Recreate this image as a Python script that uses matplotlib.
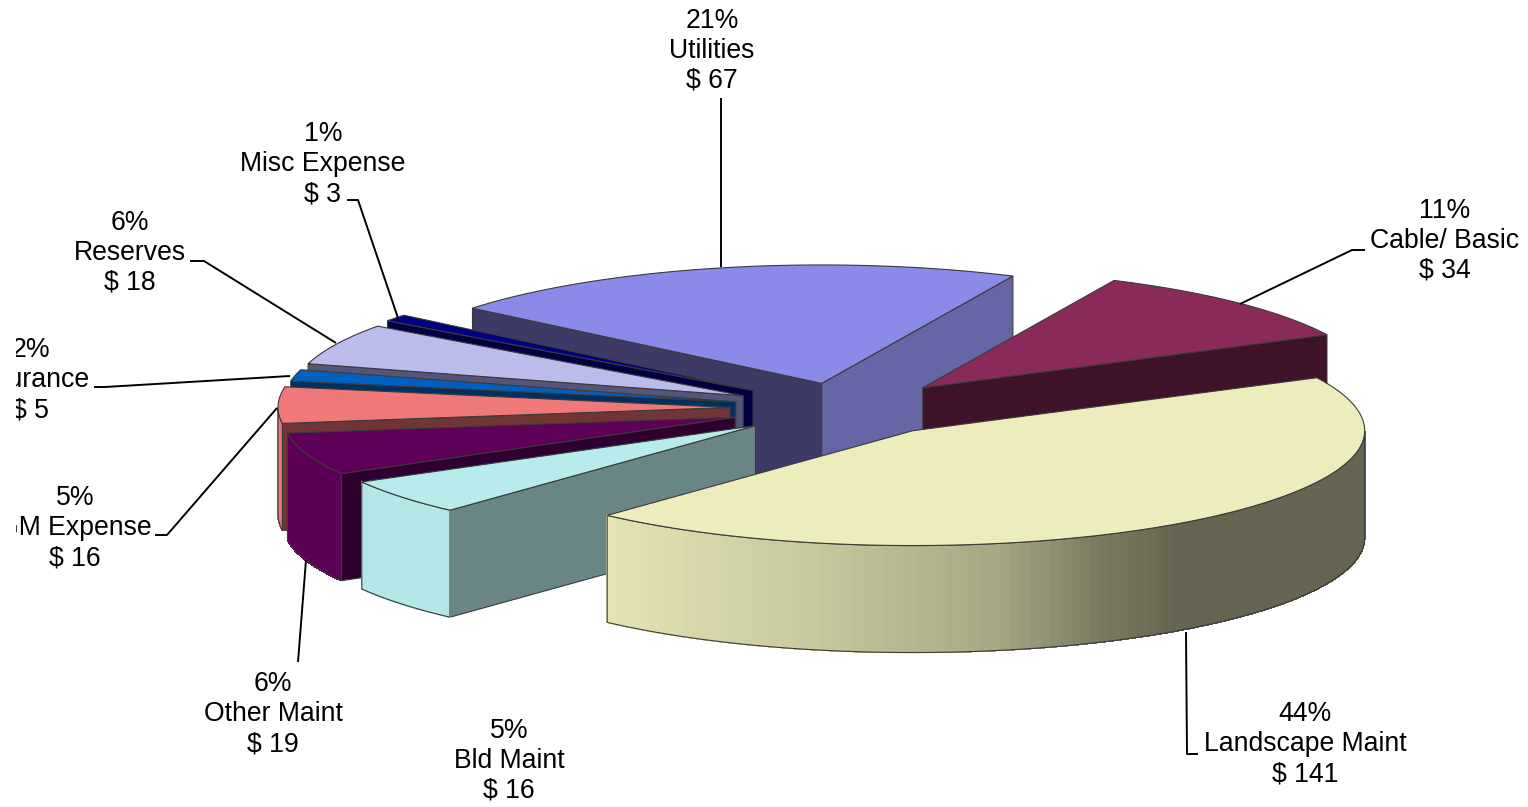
# 3d exploded pie, drawn by hand since matplotlib has no 3d pie
import matplotlib
matplotlib.use("Agg")
import matplotlib.pyplot as plt
from matplotlib.patches import Polygon, Rectangle
import numpy as np

plt.rcParams['font.family'] = ['Liberation Sans', 'DejaVu Sans']

# data
categories = ['Landscape Maint', 'Bld Maint', 'Other Maint', 'GM Expense', 'Insurance',
              'Reserves', 'Misc Expense', 'Utilities', 'Cable/ Basic']
values = [141, 16, 19, 16, 5, 18, 3, 67, 34]
percents = ['44%', '5%', '6%', '5%', '2%', '6%', '1%', '21%', '11%']

# styles (top face, radial face seen from the left, radial face seen from the right)
top_colors = ['#ececbc', '#b8ecec', '#5e0058', '#f07878', '#0060c0', '#bcbcec', '#000080', '#8a8ae8', '#8a2a5a']
left_cut = ['#66664e', '#6a8585', '#2e0030', '#703535', '#003060', '#55557a', '#000040', '#3e3a66', '#3e1228']
right_cut = ['#66664e', '#6a8585', '#2e0030', '#703535', '#003060', '#55557a', '#000040', '#6666a6', '#3e1228']
draw_order = [7, 8, 6, 5, 4, 3, 2, 1, 0]

# layout, in pixels of the 1528x807 picture
center = (844, 408)
radius = 452
squash_back = 0.262  # the far half looks a bit taller
squash_front = 0.254
flat = 0.25
depth = 107
explode = [114, 113, 115, 114, 111, 112, 115, 101, 113]
start_angle = 26.6

label_pos = [(1305, 744), (509, 761), (273, 714), (75, 528), (31, 380), (130, 253), (323, 164), (712, 51), (1445, 241)]
leaders = [
    [(1186, 632), (1187, 754), (1198, 754)],
    None,
    [(306, 560), (298, 662)],
    [(155, 535), (167, 535), (277, 408)],
    [(94, 387), (105, 387), (290, 376)],
    [(190, 261), (204, 261), (336, 343)],
    [(347, 200), (358, 200), (398, 318)],
    [(721, 98), (721, 267)],
    [(1365, 250), (1352, 250), (1240, 304)],
]

# how much the round wall darkens with the angle
shade_angle = [-135, -105, -79, -66, -54, 40]
shade_value = [0.98, 0.86, 0.71, 0.53, 0.43, 0.43]


def shade(color, f):
    rgb = np.array(matplotlib.colors.to_rgb(color))
    return tuple(rgb * f)


fig = plt.figure(figsize=(15.28, 8.07), dpi=100)
ax = fig.add_axes([0, 0, 1, 1])
ax.set_xlim(0, 1528)
ax.set_ylim(807, 0)
ax.axis('off')

edge = '#3a3a3a'
sweep = np.array(values) / sum(values) * 360
ends = start_angle - np.cumsum(sweep)
starts = ends + sweep


def prism_face(pts, color, z):
    ax.add_patch(Polygon(pts, closed=True, facecolor=color, edgecolor=edge, linewidth=0.8, zorder=z))


for k, i in enumerate(draw_order):
    a0, a1 = starts[i], ends[i]
    mid = np.radians((a0 + a1) / 2)
    ox = center[0] + explode[i] * np.cos(mid)
    oy = center[1] - explode[i] * flat * np.sin(mid)
    apex = np.array([ox, oy])
    z = 2 + k

    th = np.radians(np.linspace(a0, a1, 120))
    sq = np.where(np.sin(th) > 0, squash_back, squash_front)
    rim = np.column_stack([ox + radius * np.cos(th), oy - radius * sq * np.sin(th)])
    down = np.array([0, depth])

    # radial cut faces, only those turned to the viewer
    if np.cos(th[0]) < 0:
        prism_face([apex, rim[0], rim[0] + down, apex + down], left_cut[i], z)
    if np.cos(th[-1]) > 0:
        prism_face([apex, rim[-1], rim[-1] + down, apex + down], right_cut[i], z)

    # round wall in small bands
    front = np.sin(th) < 0
    if front.any():
        idx = np.where(front)[0]
        for j in idx[:-1]:
            ang = np.degrees(np.arctan2(np.sin(th[j]), np.cos(th[j])))
            if ang > 90:
                ang -= 360
            c = shade(top_colors[i], np.interp(ang, shade_angle, shade_value))
            quad = [rim[j], rim[j + 1], rim[j + 1] + down, rim[j] + down]
            ax.add_patch(Polygon(quad, closed=True, facecolor=c, edgecolor=c, linewidth=0.6,
                                 antialiased=False, zorder=z))
        wall = rim[idx]
        outline = np.vstack([wall, (wall + down)[::-1]])
        ax.add_patch(Polygon(outline, closed=True, fill=False, edgecolor=edge, linewidth=0.8, zorder=z))

    # top face
    prism_face(np.vstack([apex, rim]), top_colors[i], z)

# leader lines and labels
for i, name in enumerate(categories):
    if leaders[i] is not None:
        xs, ys = zip(*leaders[i])
        ax.plot(xs, ys, color='black', linewidth=1.4, zorder=30, solid_capstyle='butt')
    ax.text(label_pos[i][0], label_pos[i][1], f'{percents[i]}\n{name}\n$ {values[i]}', ha='center', va='center',
            multialignment='center', fontsize=19.2, color='black', linespacing=1.2, zorder=31, clip_on=False)

# the source picture has its left edge cut off
ax.add_patch(Rectangle((0, 300), 16, 300, facecolor='white', edgecolor='none', zorder=40))

fig.savefig('out.png', dpi=100, facecolor='white')
